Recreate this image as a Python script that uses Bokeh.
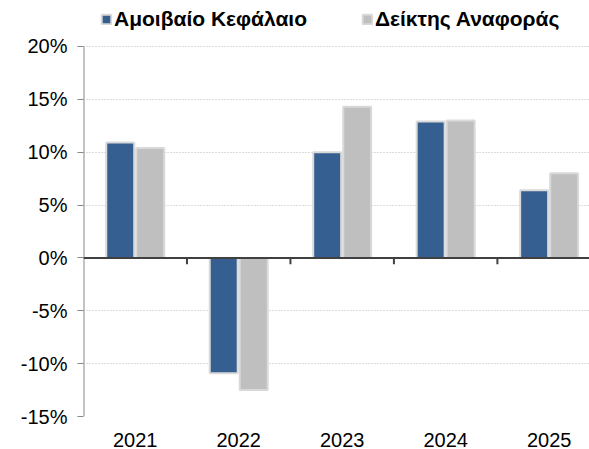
from bokeh.plotting import figure
from bokeh.models import (ColumnDataSource, FixedTicker, Span, Legend, LegendItem,
                          Range1d)
from bokeh.embed import file_html
from bokeh.resources import INLINE

years = ["2021", "2022", "2023", "2024", "2025"]
fund = [10.9, -10.9, 10.0, 12.9, 6.4]
benchmark = [10.4, -12.5, 14.3, 13.0, 8.0]
y_ticks = [-15, -10, -5, 0, 5, 10, 15, 20]
series_names = ["Αμοιβαίο Κεφάλαιο", "Δείκτης Αναφοράς"]

BLUE = "#365F91"
GREY = "#BFBFBF"
EDGE = "#D9D9D9"
FONT = "Liberation Sans"

n = len(years)
centers = [i + 0.5 for i in range(n)]
offset = 0.145
src = ColumnDataSource(dict(
    x_fund=[c - offset for c in centers],
    x_bench=[c + offset for c in centers],
    fund=fund,
    bench=benchmark,
))

# frame spans full height above the bottom labels; legend lives in the top strip
p = figure(width=589, height=449, output_backend="svg", toolbar_location=None,
           x_range=Range1d(0, 4.89), y_range=Range1d(-15, 24.34),
           min_border_left=83, min_border_right=0, min_border_top=0,
           min_border_bottom=32)
p.outline_line_color = None

r1 = p.vbar(x="x_fund", top="fund", bottom=0, width=0.27, source=src,
            fill_color=BLUE, line_color=EDGE, line_width=2)
r2 = p.vbar(x="x_bench", top="bench", bottom=0, width=0.27, source=src,
            fill_color=GREY, line_color=EDGE, line_width=2)

# zero line
p.add_layout(Span(location=0, dimension="width", line_color="#404040", line_width=2))
# category boundary ticks below the zero line
bounds = list(range(1, n + 1))
p.segment(x0=bounds, x1=bounds, y0=[0] * len(bounds), y1=[-0.6] * len(bounds),
          line_color="#404040", line_width=2)
# vertical axis line spanning only the tick range
p.segment(x0=[0], x1=[0], y0=[min(y_ticks)], y1=[max(y_ticks)],
          line_color="#888888", line_width=2)

# y axis
ya = p.yaxis[0]
ya.ticker = FixedTicker(ticks=y_ticks)
ya.major_label_overrides = {t: f"{t}%" for t in y_ticks}
ya.axis_line_color = None
ya.major_tick_line_color = "#888888"
ya.major_tick_out = 6
ya.major_tick_in = 0
ya.minor_tick_line_color = None
ya.major_label_standoff = 10
ya.major_label_text_font = FONT
ya.major_label_text_font_size = "20px"
ya.major_label_text_color = "#000000"

# x axis
xa = p.xaxis[0]
xa.ticker = FixedTicker(ticks=centers)
xa.major_label_overrides = {c: y for c, y in zip(centers, years)}
xa.axis_line_color = None
xa.major_tick_line_color = None
xa.minor_tick_line_color = None
xa.major_label_standoff = 10
xa.major_label_text_font = FONT
xa.major_label_text_font_size = "20px"
xa.major_label_text_color = "#000000"

p.xgrid.grid_line_color = None
p.ygrid.ticker = FixedTicker(ticks=y_ticks)
p.ygrid.grid_line_color = "#BBBBBB"
p.ygrid.grid_line_dash = "1 2"
p.ygrid.grid_line_width = 1

legend = Legend(items=[LegendItem(label=series_names[0], renderers=[r1]),
                       LegendItem(label=series_names[1], renderers=[r2])],
                orientation="horizontal", location=(17, 385),
                label_text_font=FONT, label_text_font_style="bold",
                label_text_font_size="21px", label_text_color="#000000",
                glyph_width=12, glyph_height=12, label_standoff=2, spacing=54,
                padding=0, margin=0, border_line_color=None,
                background_fill_alpha=0, label_height=20)
p.add_layout(legend)

open("out.html", "w").write(file_html(p, INLINE))
